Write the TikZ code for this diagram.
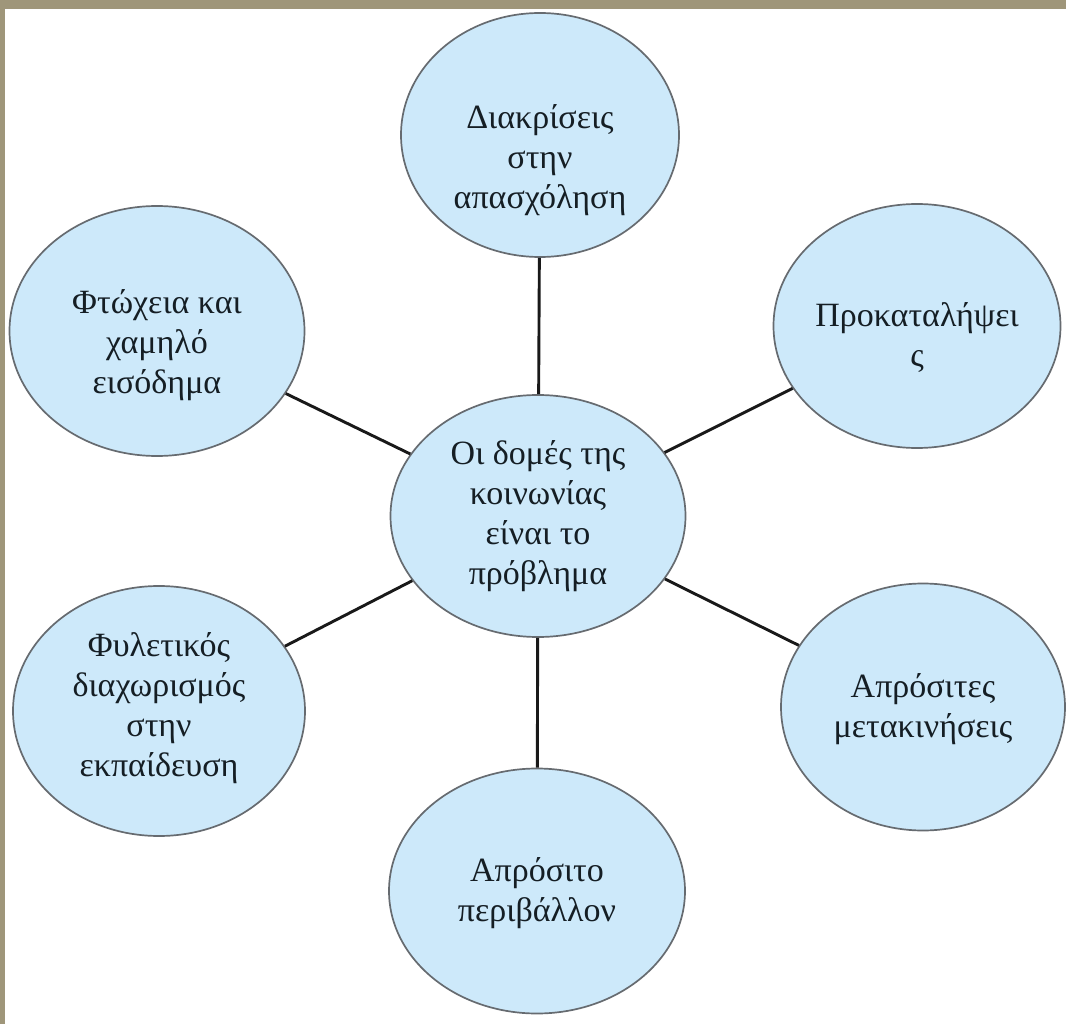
\documentclass[tikz,border=0pt]{standalone}
\usepackage{fontspec}
\setmainfont{Liberation Serif}
\usetikzlibrary{shapes.geometric}
\definecolor{bubblefill}{HTML}{CDE9FA}
\definecolor{bubbleline}{HTML}{666B70}
\definecolor{khakiband}{HTML}{9F967A}
\definecolor{txtcol}{HTML}{151E24}
\begin{document}
\begin{tikzpicture}[x=1pt,y=-1pt,
  bubble/.style={ellipse, draw=bubbleline, line width=1.7pt, fill=bubblefill,
    inner sep=0pt, minimum width=290pt, minimum height=246pt},
  btext/.style={align=center, text=txtcol, inner sep=0pt,
    font=\fontsize{34}{40}\selectfont},
  link/.style={line width=2.9pt, draw=black!90}]
\useasboundingbox (0,0) rectangle (1066,1024);
\fill[white] (0,0) rectangle (1066,1024);
\fill[khakiband] (0,0) rectangle (1066,9);
\fill[khakiband] (0,0) rectangle (5,1024);

\node[bubble, minimum width=278pt, minimum height=244pt] (T)  at (540,135) {};
\node[bubble, minimum width=295pt, minimum height=250pt] (UL) at (157,331) {};
\node[bubble, minimum width=287pt, minimum height=244pt] (UR) at (917,326) {};
\node[bubble, minimum width=295pt, minimum height=242pt] (C)  at (538,516) {};
\node[bubble, minimum width=292pt, minimum height=250pt] (LL) at (159,711) {};
\node[bubble, minimum width=284pt, minimum height=247pt] (LR) at (923,707) {};
\node[bubble, minimum width=296pt, minimum height=245pt] (B)  at (537,891) {};

\draw[link] (C) -- (T);
\draw[link] (C) -- (UL);
\draw[link] (C) -- (UR);
\draw[link] (C) -- (LL);
\draw[link] (C) -- (LR);
\draw[link] (C) -- (B);

\node[btext] (Tt)  at (540,160) {Διακρίσεις\\στην\\απασχόληση};
\node[btext] (ULt) at (157,345) {Φτώχεια και\\χαμηλό\\εισόδημα};
\node[btext] (URt) at (917,338) {Προκαταλήψει\\ς};
\node[btext] (Ct)  at (538,516) {Οι δομές της\\κοινωνίας\\είναι το\\πρόβλημα};
\node[btext] (LLt) at (159,708) {Φυλετικός\\διαχωρισμός\\στην\\εκπαίδευση};
\node[btext] (LRt) at (923,709) {Απρόσιτες\\μετακινήσεις};
\node[btext] (Bt)  at (537,893) {Απρόσιτο\\περιβάλλον};
\end{tikzpicture}
\end{document}
